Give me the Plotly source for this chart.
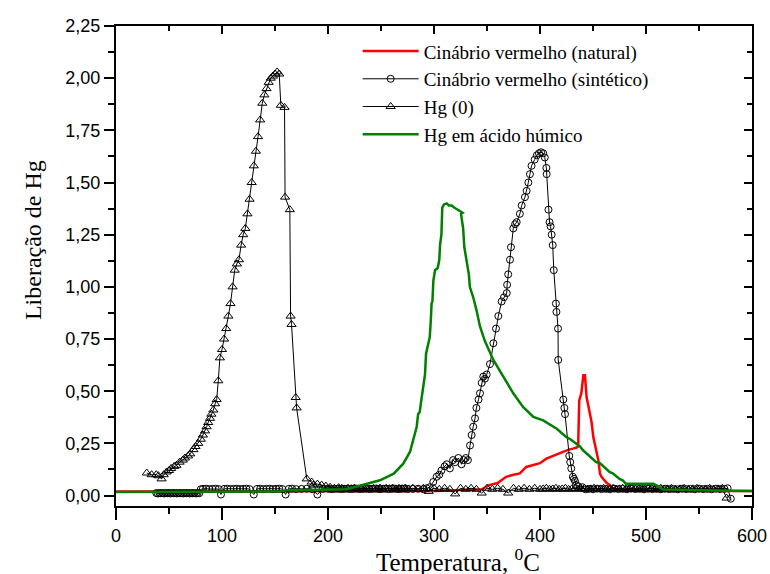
import plotly.graph_objects as go

# ---------------- data ----------------
# Cinábrio vermelho (natural)
nat_x = [0, 50, 100, 150, 200, 250, 300, 345, 352, 360, 368, 375, 381, 387, 395, 400, 406, 412, 417, 422,
         427, 431, 434.6, 436, 437, 439, 440.9, 442.4, 444, 445.6, 448.7, 450.3, 453.4, 455, 456.6, 458,
         463, 466, 470, 480, 500, 550, 600]
nat_y = [0.02, 0.02, 0.02, 0.02, 0.02, 0.02, 0.022, 0.03, 0.05, 0.06, 0.09, 0.10, 0.106, 0.137, 0.15, 0.155,
         0.177, 0.19, 0.20, 0.21, 0.22, 0.225, 0.23, 0.236, 0.456, 0.49, 0.576, 0.576, 0.47, 0.43, 0.35,
         0.28, 0.217, 0.17, 0.105, 0.09, 0.06, 0.05, 0.03, 0.025, 0.022, 0.022, 0.022]

# Cinábrio vermelho (sintético)
sin_x = [38, 39.5, 41, 42.5, 44, 45.5, 47, 48.5, 50, 51.5, 53, 54.5, 56, 57.5, 59, 60.5, 62, 63.5, 65,
         66.5, 68, 69.5, 71, 72.5, 74, 75.5, 77, 78.5, 80,
         82, 85, 88, 91, 94, 97, 99, 102, 105, 108, 111, 114, 117, 120, 123, 126, 130, 133, 136, 139,
         142, 145, 148, 151, 154, 157, 160, 163, 166, 170, 175, 180, 185, 190, 195, 200, 203, 206, 209,
         212, 215, 218, 221, 224, 227, 230, 233, 236, 239, 242, 245, 248, 251, 254, 257, 260, 263, 266,
         269, 272, 275, 280, 285, 290, 293, 296,
         299.3, 302.5, 305, 307, 310, 312, 315, 318, 320, 323, 326, 328, 330, 332, 334, 335.5, 337,
         338.7, 340, 342, 343.4, 345, 346.5, 348, 349.7, 352.8, 356, 358.5, 360.7, 363.8, 366, 368.6,
         369, 370, 371.7, 372.6, 374.8, 376.5, 378, 381, 382.7, 385.8, 387.4, 389, 390.5, 392, 395,
         397, 399, 401, 403, 404.5, 406, 406.3, 408, 409, 410, 411, 412, 413, 415, 415.5, 417, 417.2,
         422, 423, 423.6, 427.6, 428.5, 429.5, 431, 432, 433, 434, 436, 440, 443,
         446, 450, 454, 458, 462, 466, 470, 474, 478, 482, 486, 490, 494, 498, 502, 506, 510, 514, 518,
         522, 526, 530, 534, 538, 542, 546, 550, 554, 558, 562, 566, 570, 574, 577, 580]
sin_y = [0.012, 0.010, 0.012, 0.011, 0.012, 0.010, 0.012, 0.011, 0.012, 0.010, 0.012, 0.011, 0.012, 0.010,
         0.012, 0.011, 0.012, 0.010, 0.012, 0.011, 0.012, 0.010, 0.012, 0.011, 0.012, 0.010, 0.012, 0.011,
         0.030,
         0.032, 0.033, 0.031, 0.032, 0.033, 0.031, 0.005, 0.032, 0.033, 0.031, 0.032, 0.033, 0.031, 0.032,
         0.033, 0.031, 0.005, 0.032, 0.033, 0.031, 0.032, 0.033, 0.031, 0.032, 0.033, 0.031, 0.005, 0.032,
         0.033, 0.031, 0.032, 0.033, 0.031, 0.005, 0.032, 0.033, 0.031, 0.032, 0.033, 0.031, 0.032, 0.033,
         0.031, 0.032, 0.033, 0.031, 0.032, 0.033, 0.031, 0.032, 0.033, 0.031, 0.032, 0.033, 0.031, 0.032,
         0.033, 0.031, 0.032, 0.033, 0.031, 0.032, 0.033, 0.031, 0.035, 0.040,
         0.065, 0.09, 0.10, 0.12, 0.14, 0.15, 0.13, 0.17, 0.16, 0.18, 0.15, 0.17, 0.18, 0.17, 0.24, 0.29,
         0.33, 0.37, 0.42, 0.46, 0.49, 0.54, 0.57, 0.56, 0.58, 0.63, 0.73, 0.80, 0.86, 0.93, 0.95, 0.97,
         1.01, 1.06, 1.13, 1.19, 1.28, 1.30, 1.31, 1.35, 1.39, 1.43, 1.46, 1.50, 1.54, 1.58, 1.61,
         1.63, 1.64, 1.645, 1.64, 1.62, 1.57, 1.54, 1.37, 1.31, 1.29, 1.25, 1.20, 1.08, 0.92, 0.88, 0.80,
         0.65, 0.46, 0.42, 0.39, 0.19, 0.16, 0.13, 0.09, 0.08, 0.07, 0.05, 0.045, 0.04, 0.03,
         0.032, 0.030, 0.033, 0.031, 0.032, 0.030, 0.033, 0.031, 0.032, 0.030, 0.033, 0.031, 0.032, 0.030,
         0.033, 0.031, 0.032, 0.030, 0.033, 0.031, 0.032, 0.030, 0.033, 0.031, 0.032, 0.030, 0.033, 0.031,
         0.032, 0.030, 0.033, 0.031, 0.032, 0.035, -0.015]

# Hg (0)
hg0_x = [29, 33.6, 38, 40, 43, 45, 47.8, 50, 52, 55, 57, 60, 63, 65, 68, 70, 73, 75, 77.6, 80, 82, 84,
         85.5, 87, 88.7, 90, 91.8, 93.5, 95, 96.5, 98, 100, 102, 104, 106, 108, 110, 112, 114, 116, 118,
         120, 122, 124, 126, 128, 130, 132, 134, 136, 138, 140, 142, 144, 146, 148, 150, 152, 154, 155.5,
         159, 159.5, 164, 164.7, 165.6, 169.5, 170.4, 180, 184.6,
         186, 190, 194, 198, 202, 206, 210, 213, 216, 219, 222, 225, 228, 231, 234, 237, 240, 243, 246,
         249, 252, 255, 258, 261, 264, 267, 270, 273, 276, 280, 285, 290, 295, 300, 305, 310, 315, 320,
         325, 330, 335, 340, 345, 350, 355, 360, 365, 370, 375, 380, 385, 390, 395, 400, 403, 406, 409,
         412, 415, 418, 421, 424, 427, 430, 433, 436, 439, 442, 445, 448, 451, 454, 457, 460, 463, 466,
         469, 472, 475, 478, 481, 484, 487, 490, 493, 496, 499, 502, 505, 508, 511, 514, 517, 520, 524,
         528, 532, 536, 540, 544, 548, 552, 556, 560, 564, 568, 572, 576]
hg0_y = [0.108, 0.10, 0.10, 0.095, 0.08, 0.10, 0.113, 0.12, 0.13, 0.14, 0.145, 0.16, 0.17, 0.18, 0.19, 0.20,
         0.22, 0.235, 0.25, 0.27, 0.29, 0.31, 0.33, 0.35, 0.37, 0.39, 0.41, 0.44, 0.46, 0.55, 0.66, 0.70,
         0.75, 0.80, 0.86, 0.92, 1.00, 1.08, 1.11, 1.13, 1.20, 1.25, 1.28, 1.35, 1.42, 1.50, 1.58, 1.65,
         1.72, 1.80, 1.88, 1.92, 1.95, 1.98, 2.00, 2.01, 2.02, 2.03, 2.02, 1.87, 1.86, 1.43, 1.37, 0.86,
         0.82, 0.47, 0.42, 0.08, 0.065,
         0.05, 0.055, 0.05, 0.045, 0.04, 0.035, 0.038, 0.035, 0.032, 0.035, 0.033, 0.036, 0.032, 0.035,
         0.033, 0.036, 0.032, 0.035, 0.033, 0.036, 0.032, 0.035, 0.033, 0.036, 0.032, 0.035, 0.033, 0.036,
         0.032, 0.035, 0.030, 0.035, 0.020, 0.035, 0.030, 0.035, 0.030, 0.008, 0.035, 0.030, 0.035, 0.030,
         0.012, 0.035, 0.030, 0.035, 0.030, 0.012, 0.035, 0.030, 0.035, 0.030, 0.035, 0.030, 0.032, 0.035,
         0.030, 0.032, 0.035, 0.030, 0.032, 0.035, 0.030, 0.032, 0.035, 0.030, 0.032, 0.035, 0.030, 0.032,
         0.035, 0.030, 0.032, 0.035, 0.030, 0.032, 0.035, 0.030, 0.032, 0.035, 0.030, 0.032, 0.035, 0.030,
         0.032, 0.035, 0.030, 0.032, 0.035, 0.030, 0.032, 0.035, 0.030, 0.032, 0.035, 0.030, 0.032, 0.035,
         0.030, 0.032, 0.035, 0.030, 0.032, 0.035, 0.030, 0.032, 0.035, -0.012]

# Hg em ácido húmico
hum_x = [0, 50, 100, 155, 160, 200, 217, 221, 236, 249, 262, 271, 277.4, 280.5, 283.7, 285, 286.5, 288.4,
         290.6, 291.5, 292.5, 294.6, 296, 297, 297.7, 298.5, 299.4, 301, 303.5, 305, 305.7, 307, 307.8,
         309.5, 311.9, 314, 316.6, 319, 322, 325, 327, 325.5, 326.5, 327.5, 328.6, 330.8, 332.9, 333.8,
         337, 340, 343.4, 348, 356, 365.4, 374.8, 384, 393.7, 403, 415.8, 425, 428.6, 437.7, 440.6, 453,
         456.6, 465.6, 469, 475, 478, 481, 495, 507, 511, 516, 530, 551, 575, 600]
hum_y = [0.017, 0.017, 0.018, 0.02, 0.025, 0.027, 0.03, 0.035, 0.057, 0.073, 0.105, 0.153, 0.21, 0.265,
         0.33, 0.39, 0.40, 0.47, 0.57, 0.58, 0.68, 0.74, 0.76, 0.84, 0.92, 0.93, 1.03, 1.08, 1.09, 1.13,
         1.20, 1.25, 1.38, 1.395, 1.40, 1.39, 1.39, 1.38, 1.37, 1.36, 1.355, 1.35, 1.32, 1.28, 1.19, 1.13,
         1.06, 1.00, 0.95, 0.89, 0.81, 0.74, 0.65, 0.57, 0.49, 0.425, 0.377, 0.36, 0.32, 0.28, 0.27, 0.235,
         0.217, 0.16, 0.155, 0.113, 0.105, 0.08, 0.073, 0.057, 0.057, 0.057, 0.045, 0.029, 0.028, 0.025,
         0.023, 0.022]

x_ticks = [0, 100, 200, 300, 400, 500, 600]
y_ticks = [0.0, 0.25, 0.5, 0.75, 1.0, 1.25, 1.5, 1.75, 2.0, 2.25]
y_tick_labels = ["0,00", "0,25", "0,50", "0,75", "1,00", "1,25", "1,50", "1,75", "2,00", "2,25"]

names = ["Cinábrio vermelho (natural)", "Cinábrio vermelho (sintético)", "Hg (0)", "Hg em ácido húmico"]

# ---------------- figure ----------------
fig = go.Figure()
fig.add_trace(go.Scatter(x=nat_x, y=nat_y, mode="lines", name=names[0],
                         line=dict(color="#ff0000", width=2.5)))
fig.add_trace(go.Scatter(x=sin_x, y=sin_y, mode="lines+markers", name=names[1],
                         line=dict(color="black", width=1),
                         marker=dict(symbol="circle-open", size=7, color="black", line=dict(width=1))))
fig.add_trace(go.Scatter(x=hg0_x, y=hg0_y, mode="lines+markers", name=names[2],
                         line=dict(color="black", width=1),
                         marker=dict(symbol="triangle-up-open", size=8, color="black", line=dict(width=1))))
fig.add_trace(go.Scatter(x=hum_x, y=hum_y, mode="lines", name=names[3],
                         line=dict(color="#008000", width=2.5)))
# empty trace to activate the mirrored (top/right) axes
fig.add_trace(go.Scatter(x=[None], y=[None], xaxis="x2", yaxis="y2", showlegend=False,
                         hoverinfo="skip", mode="lines"))

tickfont = dict(family="Liberation Sans, Arial", size=18, color="black")
serif = "Liberation Serif, Times New Roman"
common = dict(showgrid=False, zeroline=False, automargin=False, showline=True,
              linecolor="black", linewidth=2, tickcolor="black", tickwidth=1.5)
fig.update_layout(
    width=770, height=574,
    margin=dict(l=116, r=18, t=26, b=68, autoexpand=False),
    paper_bgcolor="white", plot_bgcolor="white",
    showlegend=True,
    legend=dict(x=0.380, y=0.987, xanchor="left", yanchor="top",
                bgcolor="rgba(0,0,0,0)", borderwidth=0,
                font=dict(family=serif, size=19, color="black"),
                tracegroupgap=0, itemwidth=56),
    xaxis=dict(range=[0, 600], tickvals=x_ticks, ticks="outside", ticklen=12, tickfont=tickfont,
               minor=dict(dtick=50, tick0=0, ticks="outside", ticklen=6, tickwidth=1.5, tickcolor="black"),
               **common),
    yaxis=dict(range=[-0.05, 2.25], tickvals=y_ticks, ticktext=y_tick_labels, ticks="outside",
               ticklen=10, tickfont=tickfont,
               minor=dict(dtick=0.125, tick0=0, ticks="outside", ticklen=6, tickwidth=1.5, tickcolor="black"),
               **common),
    xaxis2=dict(overlaying="x", side="top", matches="x", range=[0, 600], tickvals=x_ticks,
                ticks="inside", ticklen=8, showticklabels=False,
                minor=dict(dtick=50, tick0=0, ticks="inside", ticklen=5, tickwidth=1.5, tickcolor="black"),
                **common),
    yaxis2=dict(overlaying="y", side="right", matches="y", range=[-0.05, 2.25], tickvals=y_ticks,
                ticks="inside", ticklen=8, showticklabels=False,
                minor=dict(dtick=0.125, tick0=0, ticks="inside", ticklen=5, tickwidth=1.5, tickcolor="black"),
                **common),
    annotations=[
        dict(text="Temperatura, <sup>0</sup>C", xref="paper", yref="paper", x=0.537, y=-0.1125,
             xanchor="center", yanchor="middle", showarrow=False,
             font=dict(family=serif, size=25, color="black")),
        dict(text="Liberação de Hg", xref="paper", yref="paper", x=-0.1305, y=0.554,
             xanchor="center", yanchor="middle", textangle=-90, showarrow=False,
             font=dict(family=serif, size=24, color="black")),
    ],
)

post = ("document.body.style.margin='0px';"
        "document.documentElement.style.overflow='hidden';")
fig.write_html("out.html", post_script=post, config={"displayModeBar": False})
